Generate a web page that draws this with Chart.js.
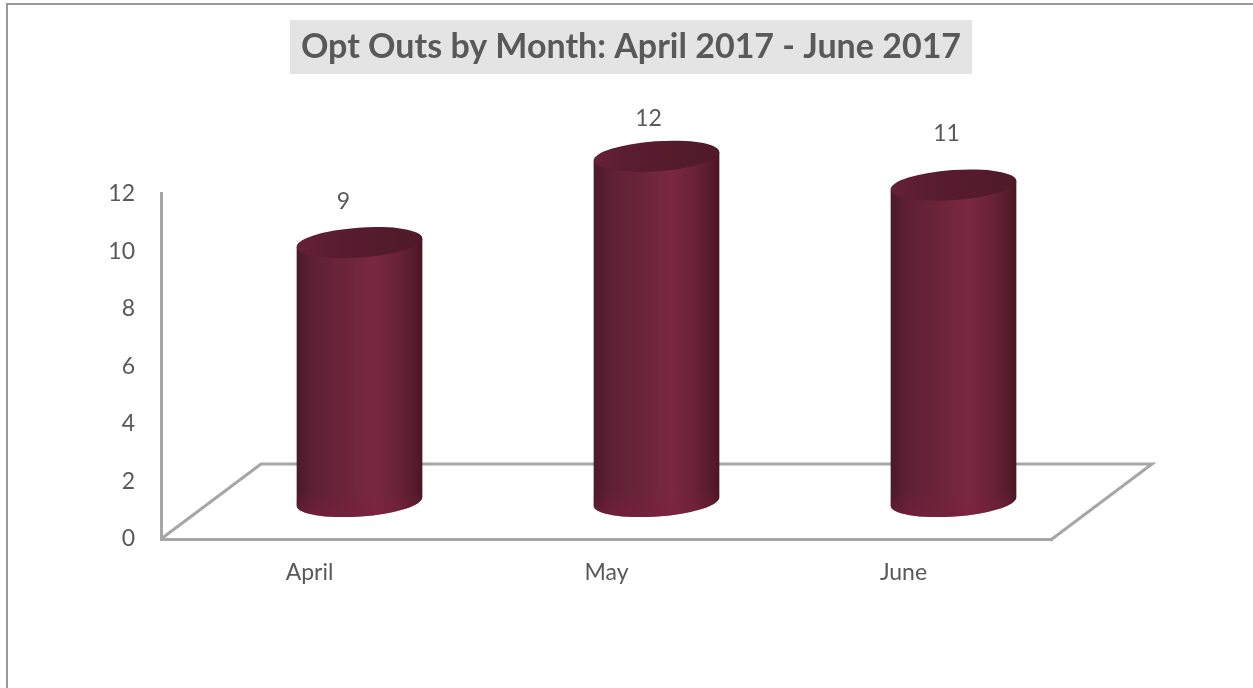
<!DOCTYPE html>
<html>
<head>
<meta charset="utf-8">
<title>Opt Outs by Month</title>
<script src="https://cdn.jsdelivr.net/npm/chart.js@4"></script>
<style>
  html, body { margin: 0; padding: 0; background: #fff; overflow: hidden; }
  canvas { display: block; }
</style>
</head>
<body>
<canvas id="chart" width="1253" height="688"></canvas>
<script>
const categories = ['April', 'May', 'June'];
const optOuts = [9, 12, 11];
const chartTitle = 'Opt Outs by Month: April 2017 - June 2017';

const fontFamily = 'Lato, "Open Sans", sans-serif';
const textColor = '#595959';
const axisColor = '#a6a6a6';
const labelSize = 23;
const titleSize = 34;

// Fake 3D floor depth, the bars stand halfway back on it
const depth = { x: 100, y: -75 };

// The labels sit a little off the bar tops in the reference
const labelNudge = [{ x: -16, y: -41 }, { x: -8, y: -38 }, { x: -7, y: -51 }];

const tilt = -4 * Math.PI / 180;
const ellipseRy = 15;

const frameAndTitleBox = {
    id: 'frameAndTitleBox',
    afterLayout(chart) {
        // Title centres on the whole frame, not on the padded plot width
        chart.titleBlock.right = chart.width;
    },
    beforeDraw(chart) {
        const { ctx, titleBlock } = chart;
        ctx.save();
        ctx.strokeStyle = '#999999';
        ctx.lineWidth = 2;
        ctx.beginPath();
        ctx.moveTo(7, 688);
        ctx.lineTo(7, 4);
        ctx.lineTo(1253, 4);
        ctx.stroke();

        // Grey box behind the title
        const cx = (titleBlock.left + titleBlock.right) / 2;
        ctx.font = `bold ${titleSize}px ${fontFamily}`;
        const w = ctx.measureText(chartTitle).width + 22;
        ctx.fillStyle = '#e4e4e4';
        ctx.fillRect(cx - w / 2, 20, w, 54);
        ctx.restore();
    },
};

const drawCylinder = (ctx, bar) => {
    const rx = bar.width / 2;
    const cx = bar.x + depth.x / 2;
    const topY = bar.y + depth.y / 2;
    const baseY = bar.base + depth.y / 2;
    const dx = rx * Math.cos(tilt);
    const dy = rx * Math.sin(tilt);

    const side = ctx.createLinearGradient(cx - rx, 0, cx + rx, 0);
    side.addColorStop(0, '#4a1a2a');
    side.addColorStop(0.14, '#5f2035');
    side.addColorStop(0.4, '#6c253b');
    side.addColorStop(0.62, '#7a2842');
    side.addColorStop(0.8, '#6a2238');
    side.addColorStop(0.95, '#541a2c');
    side.addColorStop(1, '#481524');

    ctx.beginPath();
    ctx.moveTo(cx - dx, topY - dy);
    ctx.lineTo(cx - dx, baseY - dy);
    ctx.ellipse(cx, baseY, rx, ellipseRy, tilt, Math.PI, 0, true);
    ctx.lineTo(cx + dx, topY + dy);
    ctx.closePath();
    ctx.fillStyle = side;
    ctx.fill();

    // Lighter rim along the foot of the cylinder
    const rim = ctx.createLinearGradient(0, baseY - 10, 0, baseY + ellipseRy);
    rim.addColorStop(0, 'rgba(125, 30, 62, 0)');
    rim.addColorStop(1, 'rgba(125, 30, 62, 0.55)');
    ctx.fillStyle = rim;
    ctx.fill();

    const top = ctx.createLinearGradient(cx - rx, 0, cx + rx, 0);
    top.addColorStop(0, '#66213a');
    top.addColorStop(0.3, '#591c30');
    top.addColorStop(1, '#4f1a2a');
    ctx.beginPath();
    ctx.ellipse(cx, topY, rx, ellipseRy, tilt, 0, Math.PI * 2);
    ctx.fillStyle = top;
    ctx.fill();
};

const floorAndCylinders = {
    id: 'floorAndCylinders',
    beforeDatasetsDraw(chart) {
        const { ctx, chartArea } = chart;
        const { left, right, bottom } = chartArea;
        ctx.save();
        ctx.strokeStyle = axisColor;
        ctx.lineWidth = 3;
        ctx.lineJoin = 'miter';
        ctx.beginPath();
        ctx.moveTo(left, bottom);
        ctx.lineTo(left + depth.x, bottom + depth.y);
        ctx.lineTo(right + depth.x, bottom + depth.y);
        ctx.lineTo(right, bottom);
        ctx.stroke();
        chart.getDatasetMeta(0).data.forEach((bar) => drawCylinder(ctx, bar));
        ctx.restore();
    },
    afterDatasetsDraw(chart) {
        const { ctx } = chart;
        ctx.save();
        ctx.font = `${labelSize}px ${fontFamily}`;
        ctx.fillStyle = textColor;
        ctx.textAlign = 'center';
        ctx.textBaseline = 'middle';
        chart.getDatasetMeta(0).data.forEach((bar, i) => {
            const x = bar.x + depth.x / 2 + labelNudge[i].x;
            const y = bar.y + depth.y / 2 + labelNudge[i].y;
            ctx.fillText(String(optOuts[i]), x, y);
        });
        ctx.restore();
    },
};

new Chart(document.getElementById('chart'), {
    type: 'bar',
    data: {
        labels: categories,
        datasets: [{
            label: 'Opt Outs',
            data: optOuts,
            backgroundColor: 'rgba(0, 0, 0, 0)',
            borderWidth: 0,
            barThickness: 126,
        }],
    },
    options: {
        responsive: false,
        animation: false,
        layout: {
            padding: { left: 9, right: 201, top: 0, bottom: 0 },
        },
        plugins: {
            legend: { display: false },
            tooltip: { enabled: false },
            title: {
                display: true,
                text: chartTitle,
                color: textColor,
                font: { family: fontFamily, size: titleSize, weight: 'bold', lineHeight: 1.2 },
                padding: { top: 27, bottom: 126 },
            },
        },
        scales: {
            x: {
                grid: { display: false, drawTicks: false },
                border: { color: axisColor, width: 3 },
                ticks: {
                    color: textColor,
                    font: { family: fontFamily, size: labelSize },
                    padding: 20,
                    maxRotation: 0,
                },
                afterFit: (axis) => { axis.height = 149; },
            },
            y: {
                min: 0,
                max: 12,
                grid: { display: false, drawTicks: false },
                border: { color: axisColor, width: 3 },
                ticks: {
                    stepSize: 2,
                    color: textColor,
                    font: { family: fontFamily, size: labelSize },
                    padding: 26,
                },
                afterFit: (axis) => { axis.width = 152; },
            },
        },
    },
    plugins: [frameAndTitleBox, floorAndCylinders],
});
</script>
</body>
</html>
